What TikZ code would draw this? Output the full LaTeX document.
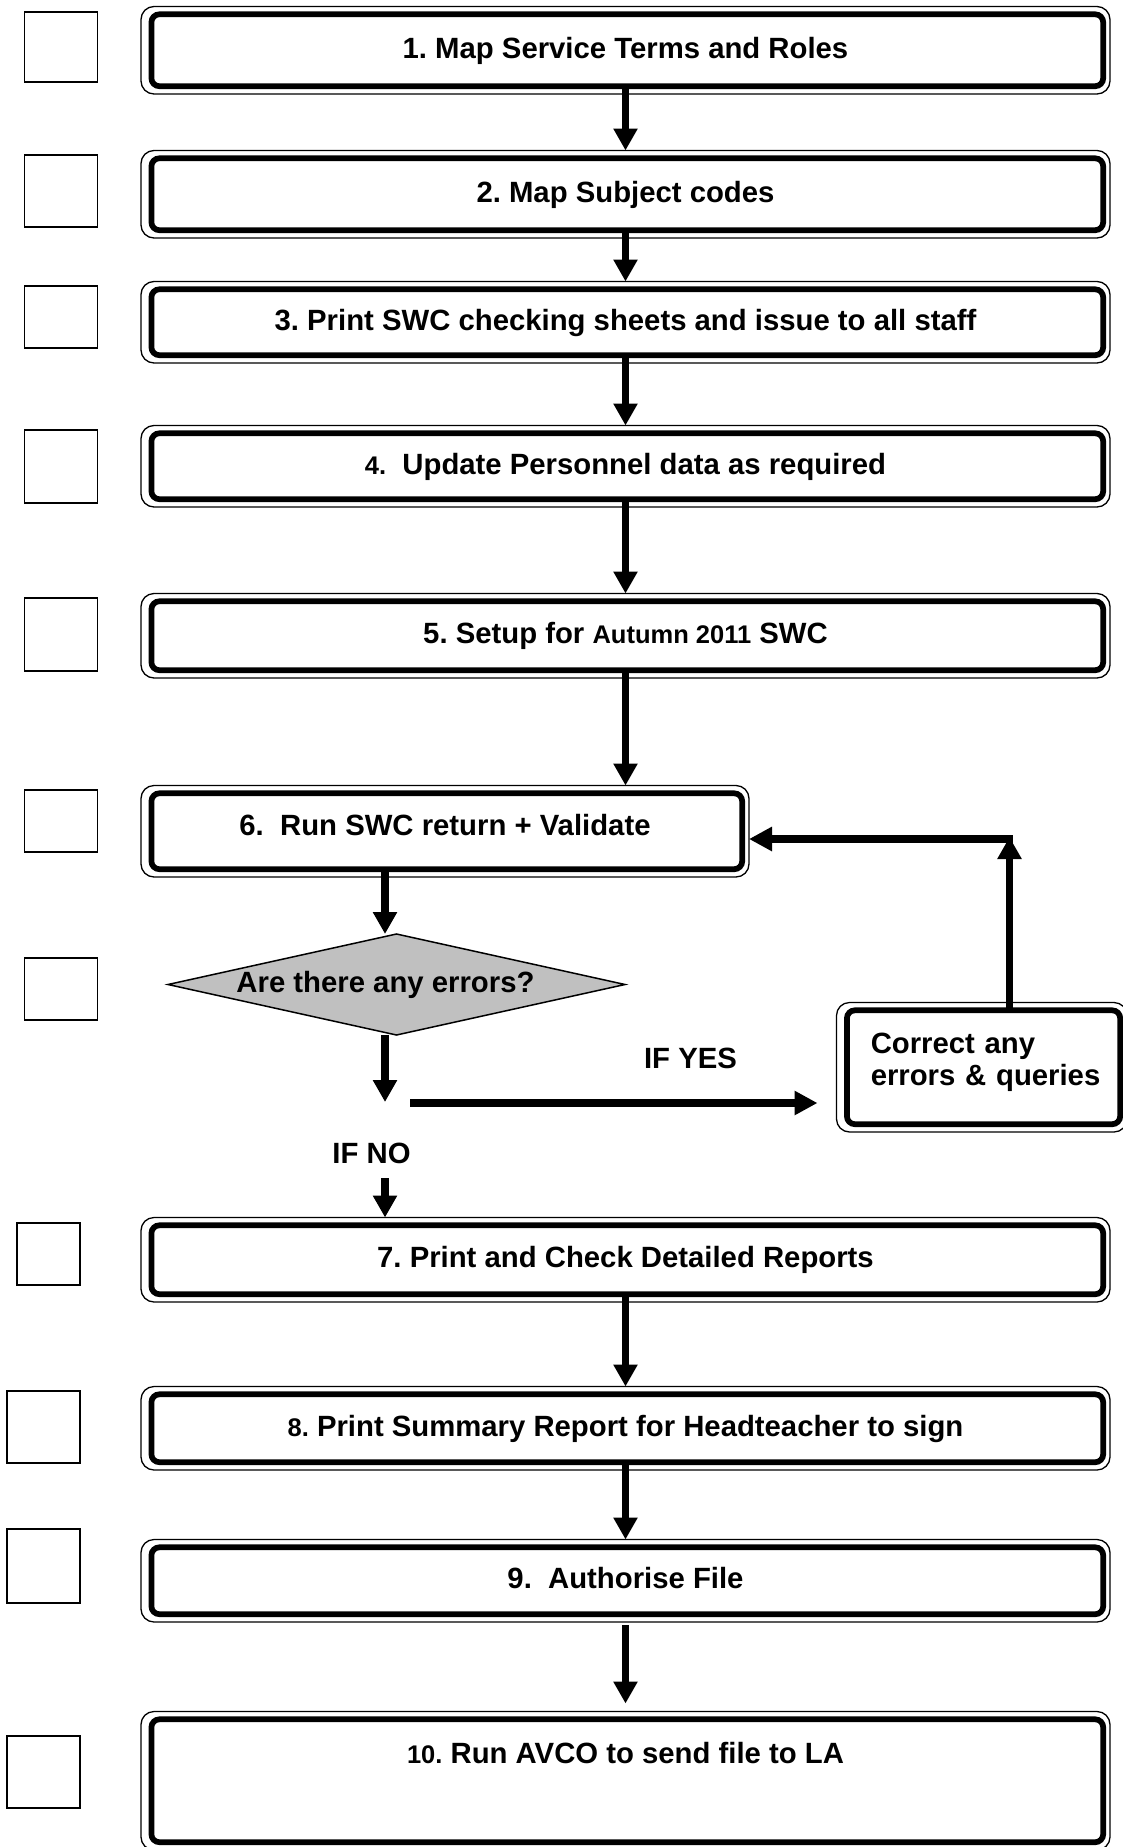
\documentclass[tikz,border=0pt]{standalone}
\usepackage{fontspec}
\setmainfont{Liberation Sans}
\usetikzlibrary{arrows.meta,shapes.geometric,calc}
\frenchspacing
\definecolor{diagray}{RGB}{192,192,192}
\newcommand\bfnt{\fontsize{29.3}{32}\selectfont\bfseries}
\newcommand\smn[1]{{\fontsize{25.5}{28}\selectfont #1}}
\tikzset{
  framebox/.style={draw=black, line width=1.3pt, rounded corners=13pt, inner sep=0pt, outer sep=0pt, font=\bfnt,
    path picture={\draw[line width=5.7pt, rounded corners=8pt]
      ([xshift=10.4pt,yshift=-7.8pt]path picture bounding box.north west) rectangle
      ([xshift=-6.8pt,yshift=7.8pt]path picture bounding box.south east);}},
  stepbox/.style={framebox, text height=21pt, text depth=5pt},
  chk/.style={draw=black, line width=1.3pt, inner sep=0pt, outer sep=0pt},
  dia/.style={shape=diamond, draw=black, line width=1.5pt, fill=diagray, inner sep=0pt, outer sep=0pt,
    shape aspect=4.52, minimum width=457pt, minimum height=101pt, font=\bfnt, text height=21pt, text depth=5pt},
  lbl/.style={inner sep=0pt, outer sep=0pt, font=\bfnt, text height=21pt, text depth=5pt},
  arr/.style={line width=7.5pt, -{Triangle[width=23pt,length=22pt]}},
  harr/.style={line width=8.3pt, -{Triangle[width=23pt,length=23pt]}}
}
\begin{document}
\begin{tikzpicture}[x=1pt,y=-1pt]
\useasboundingbox (0,0) rectangle (1123,1847);
\fill[white] (0,0) rectangle (1123,1847);
\clip (0,0) rectangle (1123,1847);

% check boxes
\node[chk, minimum width=73pt, minimum height=70pt] (cb1) at (61,47) {};
\node[chk, minimum width=73pt, minimum height=72pt] (cb2) at (61,191) {};
\node[chk, minimum width=73pt, minimum height=62pt] (cb3) at (61,317) {};
\node[chk, minimum width=73pt, minimum height=73pt] (cb4) at (61,466.5) {};
\node[chk, minimum width=73pt, minimum height=73pt] (cb5) at (61,634.5) {};
\node[chk, minimum width=73pt, minimum height=62pt] (cb6) at (61,821) {};
\node[chk, minimum width=73pt, minimum height=62pt] (cb7) at (61,989) {};
\node[chk, minimum width=63pt, minimum height=62pt] (cb8) at (48.5,1254) {};
\node[chk, minimum width=73pt, minimum height=72pt] (cb9) at (43.5,1427) {};
\node[chk, minimum width=73pt, minimum height=74pt] (cb10) at (43.5,1566) {};
\node[chk, minimum width=73pt, minimum height=72pt] (cb11) at (43.5,1772) {};

% step boxes
\node[stepbox, minimum width=969pt, minimum height=87.5pt] (b1) at (625.5,50.25) {1. Map Service Terms and Roles};
\node[stepbox, minimum width=969pt, minimum height=87.5pt] (b2) at (625.5,194.25) {2. Map Subject codes};
\node[stepbox, minimum width=969pt, minimum height=81.5pt] (b3) at (625.5,322.25) {3. Print SWC checking sheets and issue to all staff};
\node[stepbox, minimum width=969pt, minimum height=81.5pt] (b4) at (625.5,466.25) {\smn{4.}\ \ Update Personnel data as required};
\node[stepbox, minimum width=969pt, minimum height=84.5pt] (b5) at (625.5,635.75) {5. Setup for \smn{Autumn 2011} SWC};
\node[stepbox, text depth=13pt, minimum width=608pt, minimum height=91.5pt] (b6) at (445,831.25) {6.\ \ Run SWC return + Validate};
\node[dia] (dia) at (396.5,984.5) {Are there any errors?\hspace*{22pt}};
\node[framebox, minimum width=290.5pt, minimum height=129.5pt, text width=222pt, align=left,
      text height=21.5pt, text depth=50pt] (cor) at (981.75,1067.25) {\mbox{Correct any}\\\mbox{errors \& queries}};
\node[stepbox, minimum width=969pt, minimum height=84.5pt] (b7) at (625.5,1259.75) {7. Print and Check Detailed Reports};
\node[stepbox, minimum width=969pt, minimum height=83.5pt] (b8) at (625.5,1428.25) {\smn{8.} Print Summary Report for Headteacher to sign};
\node[stepbox, minimum width=969pt, minimum height=82.5pt] (b9) at (625.5,1580.75) {9.\ \ Authorise File};
\node[framebox, text height=51.5pt, text depth=87pt, minimum width=969pt, minimum height=138.5pt] (b10) at (625.5,1780.75) {\smn{10.} Run AVCO to send file to LA};

% labels
\node[lbl] (ifno) at (371.5,1155.5) {IF NO};
\node[lbl] (ifyes) at (690.5,1060.5) {IF YES};

% connectors
\draw[arr] ([yshift=8pt]b1.south) -- (b2.north);
\draw[arr] ([yshift=8pt]b2.south) -- (b3.north);
\draw[arr] ([yshift=8pt]b3.south) -- (b4.north);
\draw[arr] ([yshift=8pt]b4.south) -- (b5.north);
\draw[arr] ([yshift=8pt]b5.south) -- (b5.south |- b6.north);
\coordinate (d6) at (385,934);
\draw[arr] ($(d6 |- b6.south)+(0,-8)$) -- (d6);
\coordinate (c1) at (385,1102);
\draw[arr] (c1 |- dia.south) -- (c1);
\coordinate (c2) at (385,1178);
\draw[arr] (c2) -- (c2 |- b7.north);
\coordinate (c3) at (410,1103);
\draw[harr] (c3) -- ($(c3 -| cor.west)+(-19,0)$);
\coordinate (c5) at (1009.5,837);
\draw[arr] ($(c5 |- cor.north)+(0,6)$) -- (c5);
\coordinate (c4) at (1013,839);
\draw[harr] (c4) -- (c4 -| b6.east);
\draw[arr] ([yshift=8pt]b7.south) -- (b8.north);
\draw[arr] ([yshift=8pt]b8.south) -- (b9.north);
\draw[arr] ([yshift=-3pt]b9.south) -- ([yshift=8pt]b10.north);
\end{tikzpicture}
\end{document}
